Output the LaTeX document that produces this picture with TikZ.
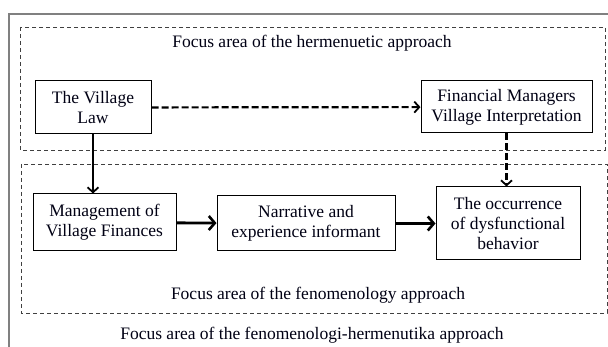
\documentclass[tikz,border=0pt]{standalone}
\usepackage{fontspec}
\setmainfont{Liberation Serif}
\usepackage{tikz}
\usetikzlibrary{arrows.meta}

\begin{document}
\begin{tikzpicture}[x=1pt,y=-1pt,
		box/.style={draw,line width=1pt,align=center,inner sep=0pt,font=\fontsize{17.5}{20}\selectfont,text=black!92!blue},
		area/.style={draw=black!75,line width=0.9pt,dash pattern=on 4pt off 3pt},
		lbl/.style={font=\fontsize{17.5}{20}\selectfont,text=black!92!blue},
		arr/.style={-{Straight Barb[length=5pt,width=11pt,line width=1.8pt]},line width=1.8pt},
		darr/.style={-{Straight Barb[length=5pt,width=11pt,line width=1.8pt]},line width=2.2pt,dash pattern=on 7pt off 3pt},
		tarr/.style={-{Straight Barb[length=6pt,width=14pt,line width=2.6pt]},line width=2.8pt}]
	\useasboundingbox (0,0) rectangle (608,347);
	\fill[white] (0,0) rectangle (608,347);
	\draw[gray,line width=1.2pt] (9,14) rectangle (620,360);
	\draw[area] (20,27) rectangle (605,150);
	\draw[area] (21,164) rectangle (607,313);
	\node[lbl] (herm) at (312,43) {Focus area of the hermenuetic approach};
	\node[lbl] (feno) at (318,295) {Focus area of the fenomenology approach};
	\node[lbl] (both) at (312,335) {Focus area of the fenomenologi-hermenutika approach};
	\node[box,minimum width=116pt,minimum height=53pt] (law) at (93,107.5) {The Village\\Law};
	\node[box,minimum width=171pt,minimum height=52pt] (fin) at (506.5,107) {Financial Managers\\Village Interpretation};
	\node[box,minimum width=143pt,minimum height=57pt] (mgmt) at (104.5,222.5) {Management of\\Village Finances};
	\node[box,minimum width=178pt,minimum height=55pt] (narr) at (306,223.5) {Narrative and\\experience informant};
	\node[box,minimum width=144pt,minimum height=73pt] (occ) at (508,223.5) {The occurrence\\of dysfunctional\\behavior};
	\draw[darr] (law) -- (fin);
	\draw[arr] (law) -- (law.south |- mgmt.north);
	\draw[darr] (fin) -- (fin.south |- occ.north);
	\draw[tarr] (mgmt) -- (narr);
	\draw[tarr] (narr) -- (narr.east -| occ.west);
\end{tikzpicture}
\end{document}
